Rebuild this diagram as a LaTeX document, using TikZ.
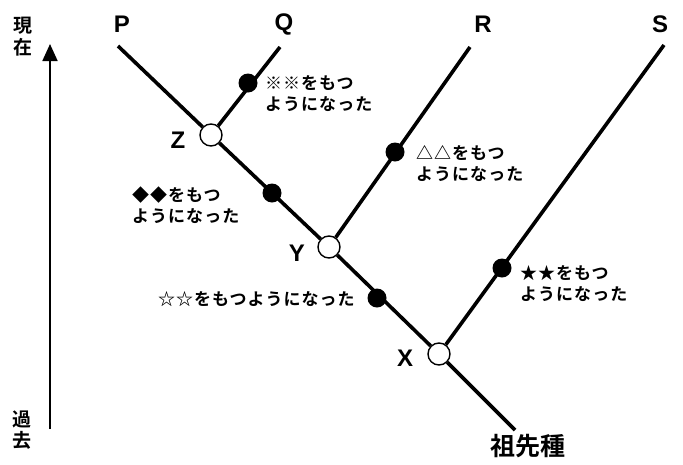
\documentclass[tikz,border=0pt]{standalone}
\usepackage{fontspec}
\setmainfont{Liberation Sans}
\newfontfamily\jp{Noto Sans CJK JP Bold}
\newfontfamily\jpsp[LetterSpace=6]{Noto Sans CJK JP Bold}
\usetikzlibrary{arrows.meta}
\begin{document}
\begin{tikzpicture}[x=1pt,y=-1pt,
  branch/.style={line width=3.6pt},
  opencirc/.style={circle,draw,line width=1.4pt,fill=white,minimum size=22pt,inner sep=0pt},
  dotc/.style={circle,fill=black,minimum size=19pt,inner sep=0pt},
  leaf/.style={font=\fontsize{24}{24}\selectfont\bfseries},
  inner/.style={font=\fontsize{24}{24}\selectfont\bfseries},
  note/.style={font=\jpsp\fontsize{17}{21}\selectfont,align=left,anchor=north west,inner sep=0pt},
  timelbl/.style={font=\jp\fontsize{19}{19}\selectfont,inner sep=0pt}]
\useasboundingbox (0,0) rectangle (683,464);
% endpoints
\coordinate (pP) at (118,46);
\coordinate (pQ) at (280,47);
\coordinate (pR) at (470,47);
\coordinate (pS) at (664,45);
\coordinate (pA) at (515,430);
% branch points
\node[opencirc] (Z) at (211,135) {};
\node[opencirc] (Y) at (329,247) {};
\node[opencirc] (X) at (439,354) {};
% lines
\draw[branch] (pP) -- (Z);
\draw[branch] (Z) -- (Y);
\draw[branch] (Y) -- (X);
\draw[branch] (X) -- (pA);
\draw[branch] (Z) -- (pQ);
\draw[branch] (Y) -- (pR);
\draw[branch] (X) -- (pS);
% dots
\node[dotc] (dQ) at (248,83) {};
\node[dotc] (dZY) at (272,193) {};
\node[dotc] (dR) at (395,152) {};
\node[dotc] (dYX) at (377,298) {};
\node[dotc] (dS) at (502,268) {};
% labels
\node[leaf] (lP) at (122,24) {P};
\node[leaf] (lQ) at (284,24) {Q};
\node[leaf] (lR) at (483,24) {R};
\node[leaf] (lS) at (660,24) {S};
\node[inner] (lZ) at (178,140) {Z};
\node[inner] (lY) at (297,253) {Y};
\node[inner] (lX) at (405,358) {X};
\node[note] (nQ) at (265,75) {※※をもつ\\ようになった};
\node[note] (nZY) at (132,187) {◆◆をもつ\\ようになった};
\node[note] (nR) at (416,145) {△△をもつ\\ようになった};
\node[note] (nS) at (520,265) {★★をもつ\\ようになった};
\node[note] (nYX) at (158,291) {☆☆をもつようになった};
\node[font=\jp\fontsize{25}{25}\selectfont,inner sep=0pt] (anc) at (528,446) {祖先種};
% time axis
\node[timelbl] (t1) at (23,26) {現};
\node[timelbl] (t2) at (23,47) {在};
\node[timelbl] (t3) at (22,419) {過};
\node[timelbl] (t4) at (22,440) {去};
\coordinate (aB) at (50,429);
\coordinate (aT) at (50,44);
\draw[line width=1.8pt,-{Triangle[length=17pt,width=15pt]}] (aB) -- (aT);
\end{tikzpicture}
\end{document}
